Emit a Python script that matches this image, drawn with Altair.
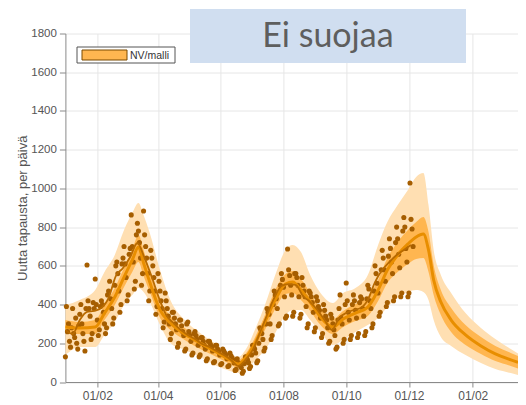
import altair as alt
import pandas as pd

# ---- model (NV/malli) : median, inner and outer intervals ----
model_dates = ["2021-01-01", "2021-01-15", "2021-01-30", "2021-02-08", "2021-02-18",
               "2021-02-27", "2021-03-07", "2021-03-13", "2021-03-18", "2021-03-24",
               "2021-04-03", "2021-04-13", "2021-04-27", "2021-05-12", "2021-05-26",
               "2021-06-10", "2021-06-18", "2021-06-25", "2021-07-05", "2021-07-14",
               "2021-07-24", "2021-08-03", "2021-08-10", "2021-08-18", "2021-08-27",
               "2021-09-06", "2021-09-18", "2021-09-28", "2021-10-10", "2021-10-22",
               "2021-11-01", "2021-11-10", "2021-11-20", "2021-11-30", "2021-12-08",
               "2021-12-15", "2021-12-20", "2021-12-25", "2022-01-01", "2022-01-11",
               "2022-01-25", "2022-02-09", "2022-02-23", "2022-03-10", "2022-03-17"]
median = [284, 279, 284, 356, 439, 542, 630, 697, 615, 516,
          372, 305, 248, 201, 160, 114, 93, 124, 207, 310,
          424, 506, 516, 475, 413, 336, 284, 325, 356, 387,
          475, 578, 656, 713, 749, 764, 682, 527, 413, 320,
          243, 186, 145, 114, 101]
inner_hi = [320, 310, 320, 398, 486, 589, 682, 759, 682, 568,
            424, 341, 279, 232, 186, 134, 114, 145, 238, 346,
            475, 558, 573, 532, 460, 382, 325, 367, 403, 439,
            527, 640, 723, 785, 826, 852, 775, 604, 475, 382,
            294, 232, 186, 150, 134]
inner_lo = [253, 248, 248, 320, 398, 491, 568, 620, 547, 465,
            331, 269, 217, 170, 134, 93, 72, 98, 176, 269,
            377, 454, 460, 424, 367, 294, 248, 284, 315, 341,
            418, 511, 568, 609, 635, 640, 568, 449, 346, 258,
            191, 145, 108, 83, 70]
outer_hi = [398, 424, 475, 568, 656, 785, 873, 925, 863, 770,
            578, 424, 320, 253, 201, 150, 129, 165, 279, 398,
            553, 682, 708, 671, 553, 460, 408, 460, 486, 553,
            708, 826, 914, 992, 1059, 1079, 914, 682, 553, 460,
            356, 279, 222, 170, 147]
outer_lo = [139, 181, 181, 243, 310, 398, 449, 486, 465, 413,
            294, 201, 165, 129, 88, 57, 46, 62, 114, 165,
            253, 346, 372, 372, 320, 258, 191, 217, 258, 294,
            331, 387, 434, 465, 475, 465, 424, 320, 232, 186,
            139, 98, 67, 46, 36]

# ---- observed data: weekly smoothed line and daily cases ----
smooth_start = "2021-01-01"
smooth_vals = [269, 248, 320, 362, 367, 382, 434, 547, 589, 646, 718, 640, 542, 434,
               346, 305, 269, 243, 222, 196, 181, 160, 139, 114, 83, 114, 165, 253,
               346, 434, 496, 506, 501, 444, 413, 372, 320, 269, 331, 356, 372, 382,
               424, 516, 578, 620, 656, 682, 708]

daily_start = "2021-01-01"
daily_weeks = [
    [130, 390, 260, 300, 210, 180, 280],
    [380, 250, 230, 330, 200, 170, 290],
    [350, 400, 300, 250, 210, 160, 380],
    [604, 420, 380, 340, 220, 250, 410],
    [380, 532, 400, 320, 240, 270, 390],
    [420, 400, 360, 300, 250, 280, 450],
    [470, 520, 430, 380, 300, 330, 500],
    [600, 620, 560, 470, 360, 400, 610],
    [640, 700, 610, 540, 420, 450, 660],
    [690, 863, 700, 620, 480, 520, 760],
    [820, 780, 720, 640, 500, 560, 883],
    [760, 700, 640, 560, 420, 470, 680],
    [640, 600, 540, 470, 350, 390, 560],
    [520, 470, 420, 380, 280, 310, 460],
    [420, 380, 340, 300, 220, 250, 360],
    [360, 330, 300, 270, 180, 200, 320],
    [320, 290, 260, 240, 160, 170, 300],
    [310, 260, 240, 210, 140, 150, 250],
    [260, 240, 220, 190, 130, 140, 230],
    [230, 210, 190, 170, 110, 120, 210],
    [210, 195, 180, 160, 100, 105, 190],
    [190, 170, 160, 140, 90, 95, 170],
    [160, 150, 140, 120, 80, 85, 150],
    [135, 125, 115, 100, 60, 65, 120],
    [100, 95, 85, 75, 45, 55, 95],
    [130, 125, 115, 100, 70, 80, 140],
    [190, 180, 170, 150, 100, 110, 200],
    [280, 270, 250, 220, 160, 175, 300],
    [380, 360, 350, 300, 220, 240, 400],
    [470, 450, 430, 380, 290, 300, 500],
    [560, 530, 490, 440, 330, 340, 687],
    [580, 550, 500, 450, 340, 360, 560],
    [560, 540, 500, 440, 330, 350, 540],
    [500, 470, 440, 390, 280, 300, 470],
    [460, 440, 410, 360, 260, 280, 440],
    [420, 390, 370, 330, 230, 250, 400],
    [370, 340, 320, 280, 200, 210, 350],
    [330, 300, 270, 240, 170, 180, 320],
    [380, 450, 330, 300, 200, 220, 400],
    [511, 420, 360, 320, 220, 240, 400],
    [450, 420, 370, 330, 230, 250, 410],
    [440, 430, 380, 340, 240, 260, 430],
    [500, 480, 420, 380, 280, 300, 470],
    [600, 560, 510, 460, 340, 360, 580],
    [680, 640, 580, 520, 390, 410, 650],
    [740, 690, 620, 560, 420, 440, 720],
    [800, 740, 660, 590, 440, 460, 780],
    [850, 800, 690, 620, 440, 460, 1028],
    [840, 790, 700],
]

x_ticks = [(2021, 2), (2021, 4), (2021, 6), (2021, 8), (2021, 10), (2021, 12), (2022, 2)]
y_ticks = [0, 200, 400, 600, 800, 1000, 1200, 1400, 1600, 1800]
legend_label = "NV/malli"
title_text = "Ei suojaa"
y_title = "Uutta tapausta, per päivä"

# ---- tables ----
model = pd.DataFrame({"date": model_dates, "median": median, "ilo": inner_lo,
                      "ihi": inner_hi, "olo": outer_lo, "ohi": outer_hi})

smooth = pd.DataFrame({
    "date": pd.date_range(smooth_start, periods=len(smooth_vals), freq="7D").strftime("%Y-%m-%d"),
    "v": smooth_vals})
flat = [v for wk in daily_weeks for v in wk]
daily = pd.DataFrame({
    "date": pd.date_range(daily_start, periods=len(flat), freq="D").strftime("%Y-%m-%d"),
    "v": flat})

FONT = "Liberation Sans"
C_OUTER, C_INNER, C_MED, C_SMOOTH, C_PTS = "#ffdfb2", "#ffb650", "#e88e00", "#b86a00", "#a65e00"

xscale = alt.Scale(type="utc", domain=[alt.DateTime(year=2021, month=1, date=1, utc=True),
                                       alt.DateTime(year=2022, month=3, date=17, utc=True)])
xaxis = alt.Axis(values=[alt.DateTime(year=y, month=m, date=1, utc=True) for y, m in x_ticks],
                 format="%d/%m", title=None, tickSize=5, labelPadding=3, labelFontSize=12,
                 labelFlush=False)
yscale = alt.Scale(domain=[0, 1800], nice=False)
yaxis = alt.Axis(values=y_ticks, format="d", title=y_title, tickSize=6, labelPadding=3,
                 labelFontSize=11.5, titleFontSize=13, titlePadding=1)


def X():
    return alt.X("date:T", scale=xscale, axis=xaxis)


def Y(field):
    return alt.Y(f"{field}:Q", scale=yscale, axis=yaxis)


outer = alt.Chart(model).mark_area(color=C_OUTER, interpolate="monotone").encode(
    x=X(), y=Y("olo"), y2="ohi")
inner = alt.Chart(model).mark_area(color=C_INNER, interpolate="monotone").encode(
    x=X(), y=Y("ilo"), y2="ihi")
pts = alt.Chart(daily).mark_circle(color=C_PTS, size=26, opacity=1).encode(
    x=X(), y=Y("v"))
med = alt.Chart(model).mark_line(color=C_MED, strokeWidth=3, interpolate="monotone").encode(
    x=X(), y=Y("median"))
sm = alt.Chart(smooth).mark_line(color=C_SMOOTH, strokeWidth=1.8, interpolate="monotone").encode(
    x=X(), y=Y("v"))

# ---- decorations: legend box and title box ----
one = alt.Data(values=[{"t": title_text, "l": legend_label}])
leg_box = alt.Chart(one).mark_rect(fill="white", stroke="#555", strokeWidth=1).encode(
    x=alt.value(11.6), x2=alt.value(109.6), y=alt.value(13.5), y2=alt.value(29.5))
leg_sw = alt.Chart(one).mark_rect(fill=C_INNER, stroke="#7a4a00", strokeWidth=1).encode(
    x=alt.value(16.6), x2=alt.value(61.6), y=alt.value(16.5), y2=alt.value(26.5))
leg_tx = alt.Chart(one).mark_text(font=FONT, fontSize=10.5, color="#333", align="left",
                                  baseline="alphabetic").encode(
    x=alt.value(64.6), y=alt.value(25.3), text="l:N")

box = alt.Chart(one).mark_rect(color="#d0def0").encode(
    x=alt.value(124.6), x2=alt.value(400.6), y=alt.value(-24.5), y2=alt.value(29.5))
txt = alt.Chart(one).mark_text(
    font="Lato", fontSize=34, color="#5e5e5e", align="center", baseline="alphabetic").encode(
    x=alt.value(262.5), y=alt.value(13.5), text="t:N")

chart = alt.layer(outer, inner, pts, med, sm, leg_box, leg_sw, leg_tx, box, txt).properties(
    width=452.6, height=348.5,
    autosize=alt.AutoSizeParams(type="none"),
    padding={"left": 57.4, "top": 25.5, "right": 0, "bottom": 20},
).configure_view(stroke=None).configure_axis(
    gridColor="#e6e6e6", domainColor="#8a8a8a", tickColor="#8a8a8a",
    labelColor="#555", titleColor="#555", labelFont=FONT, titleFont=FONT,
    titleFontWeight="normal")

chart.save("out.html", embed_options={"renderer": "svg", "actions": False})
